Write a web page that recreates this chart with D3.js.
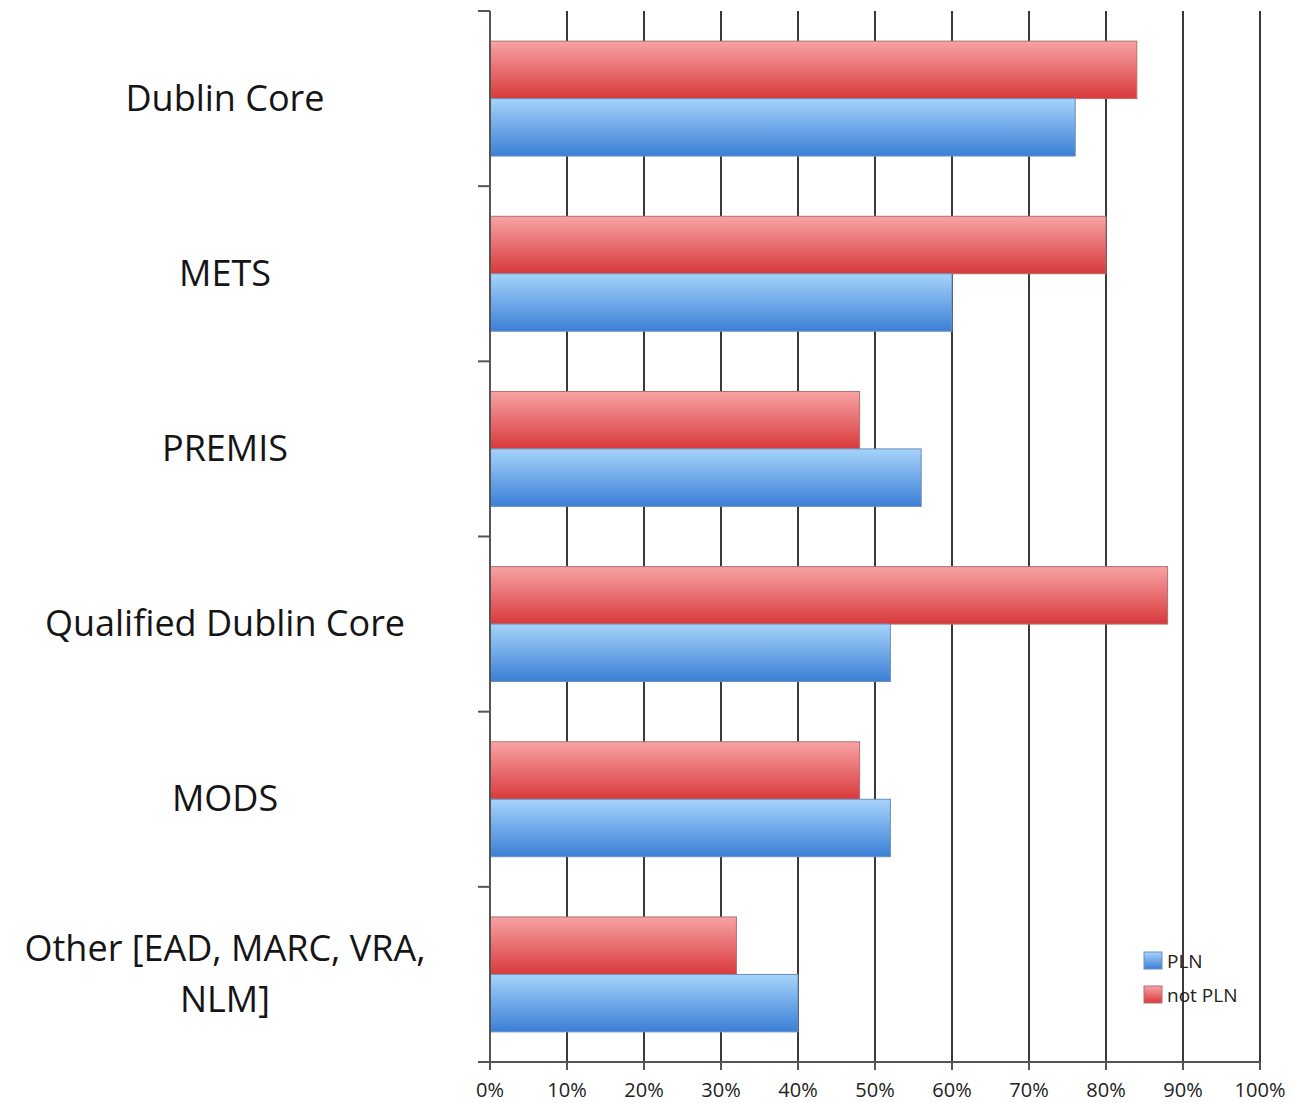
<!DOCTYPE html>
<html><head><meta charset="utf-8">
<script src="https://cdn.jsdelivr.net/npm/d3@7"></script>
<style>body{margin:0;background:#fff}svg{display:block}</style>
</head><body>
<svg id="c" width="1293" height="1103"></svg>
<script>
const categories = ["Dublin Core","METS","PREMIS","Qualified Dublin Core","MODS","Other [EAD, MARC, VRA, NLM]"];
const categoryLines = [["Dublin Core"],["METS"],["PREMIS"],["Qualified Dublin Core"],["MODS"],["Other [EAD, MARC, VRA,","NLM]"]];
const notPLN = [84,80,48,88,48,32];
const PLN = [76,60,56,52,52,40];
const seriesNames = ["not PLN","PLN"];
const xTicks = [0,10,20,30,40,50,60,70,80,90,100];

(function(){
const svg = d3.select("#c");
const font = "'Open Sans', Lato, sans-serif";
const pL = 490, pR = 1260, pT = 11, pB = 1062;

const x = d3.scaleLinear().domain([0,100]).range([pL,pR]);
const y = d3.scaleBand().domain(categories).range([pT,pB]).paddingInner(0.344).paddingOuter(0.172);
const inner = d3.scaleBand().domain(seriesNames).range([0,y.bandwidth()]);

const defs = svg.append("defs");
function grad(id, c1, c2){
  const g = defs.append("linearGradient").attr("id",id).attr("x1",0).attr("y1",0).attr("x2",0).attr("y2",1);
  g.append("stop").attr("offset","0%").attr("stop-color",c1);
  g.append("stop").attr("offset","100%").attr("stop-color",c2);
}
grad("gRed","#f7a3a5","#d9393b");
grad("gBlue","#a6d3fa","#3b7fd6");

// gridlines
svg.append("g").selectAll("line").data(xTicks.slice(1)).join("line")
  .attr("x1",d=>x(d)).attr("x2",d=>x(d)).attr("y1",pT).attr("y2",pB)
  .attr("stroke","#3a3a3a").attr("stroke-width",2);

// bars
const data = categories.map((c,i)=>({c, vals:[{s:"not PLN",v:notPLN[i]},{s:"PLN",v:PLN[i]}]}));
const grp = svg.append("g").selectAll("g").data(data).join("g")
  .attr("transform",d=>`translate(0,${y(d.c)})`);
grp.selectAll("rect").data(d=>d.vals).join("rect")
  .attr("x",x(0)).attr("y",d=>inner(d.s)).attr("height",inner.bandwidth())
  .attr("width",d=>x(d.v)-x(0))
  .attr("fill",d=>d.s==="PLN"?"url(#gBlue)":"url(#gRed)")
  .attr("stroke",d=>d.s==="PLN"?"#6a8fb8":"#b07070").attr("stroke-width",1);

// y axis
const yEdges = categories.map(c=>y(c)-y.step()*0.172).concat([pB]);
svg.append("line").attr("x1",pL).attr("x2",pL).attr("y1",pT).attr("y2",pB)
  .attr("stroke","#555").attr("stroke-width",2);
svg.append("g").selectAll("line").data(yEdges).join("line")
  .attr("x1",pL-12).attr("x2",pL).attr("y1",d=>d).attr("y2",d=>d)
  .attr("stroke","#555").attr("stroke-width",2);

// x axis
svg.append("line").attr("x1",pL-12).attr("x2",pR).attr("y1",pB).attr("y2",pB)
  .attr("stroke","#555").attr("stroke-width",2);
svg.append("g").selectAll("line").data(xTicks).join("line")
  .attr("x1",d=>x(d)).attr("x2",d=>x(d)).attr("y1",pB).attr("y2",pB+8)
  .attr("stroke","#555").attr("stroke-width",2);
svg.append("g").selectAll("text").data(xTicks).join("text")
  .attr("x",d=>x(d)).attr("y",pB+35).attr("text-anchor","middle")
  .attr("font-family",font).attr("font-size",20).attr("fill","#222")
  .text(d=>d+"%");

// category labels
const lab = svg.append("g").selectAll("text").data(categories).join("text")
  .attr("text-anchor","middle").attr("font-family",font).attr("font-size",36).attr("fill","#151515")
  .attr("transform",c=>`translate(225,${y(c)+y.bandwidth()/2})`);
lab.each(function(c,i){
  const lines = categoryLines[i];
  const t = d3.select(this);
  const n = lines.length;
  lines.forEach((l,j)=>{
    t.append("tspan").attr("x",0).attr("y",(j-(n-1)/2)*51+12).text(l);
  });
});

// legend
const legItems = [{s:"PLN",fill:"url(#gBlue)",stroke:"#6a8fb8"},{s:"not PLN",fill:"url(#gRed)",stroke:"#b07070"}];
const leg = svg.append("g").selectAll("g").data(legItems).join("g")
  .attr("transform",(d,i)=>`translate(1144,${952+i*34})`);
leg.append("rect").attr("width",18).attr("height",17).attr("fill",d=>d.fill).attr("stroke",d=>d.stroke);
leg.append("text").attr("x",23).attr("y",16).attr("font-family",font).attr("font-size",19).attr("fill","#222").text(d=>d.s);
})();
</script>
</body></html>
